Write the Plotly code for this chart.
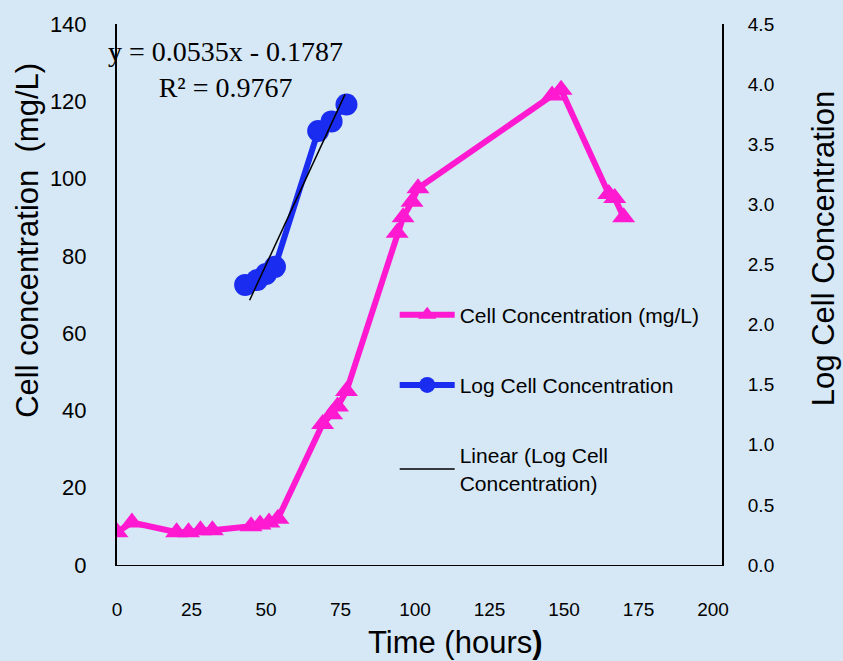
import plotly.graph_objects as go

# ---- data ----
time_cell = [0, 5, 20, 24, 28, 32, 45, 48, 51, 54, 69, 72, 74, 77, 94, 96, 99, 101, 146, 149, 165, 167, 170]
cell_conc = [8.5, 11, 8.5, 8.5, 9, 9, 10, 10.5, 11, 12, 36.5, 39, 41, 45, 86, 90, 94, 97.5, 121.5, 123, 96, 95, 90]

time_log = [43, 47, 50, 53, 67.5, 72, 77]
log_conc = [2.33, 2.37, 2.42, 2.48, 3.61, 3.69, 3.83]

trend_slope = 0.0535
trend_intercept = -0.1787
trend_x = [44.5, 76.5]

x_ticks = [0, 25, 50, 75, 100, 125, 150, 175, 200]
y_left_ticks = [0, 20, 40, 60, 80, 100, 120, 140]
y_right_ticks = [0, 0.5, 1.0, 1.5, 2.0, 2.5, 3.0, 3.5, 4.0, 4.5]

trend_y = [trend_slope * x + trend_intercept for x in trend_x]

BG = "#d6e8f6"
FONT = "Liberation Sans, Arial, sans-serif"

fig = go.Figure()

fig.add_trace(go.Scatter(
    x=time_cell, y=cell_conc, name="Cell Concentration (mg/L)",
    mode="lines+markers", legendgroup="a",
    line=dict(color="#ff19d0", width=6),
    marker=dict(symbol="triangle-up", size=20, color="#ff19d0"),
    yaxis="y"))

fig.add_trace(go.Scatter(
    x=time_log, y=log_conc, name="Log Cell Concentration",
    mode="lines+markers", legendgroup="b",
    line=dict(color="#1a2cf0", width=6),
    marker=dict(symbol="circle", size=22, color="#1a2cf0"),
    yaxis="y2"))

fig.add_trace(go.Scatter(
    x=trend_x, y=trend_y, name="Linear (Log Cell<br>Concentration)",
    mode="lines", legendgroup="c",
    line=dict(color="black", width=1.5),
    yaxis="y2"))

fig.update_layout(
    width=843, height=661,
    margin=dict(l=117, r=121, t=19, b=96),
    paper_bgcolor=BG, plot_bgcolor=BG,
    font=dict(family=FONT, color="black"),
    showlegend=True,
    legend=dict(x=0.459, y=0.5, xanchor="left", yanchor="top",
                bgcolor="rgba(0,0,0,0)", font=dict(size=21, family=FONT),
                tracegroupgap=40, itemwidth=55),
    xaxis=dict(range=[0, 203], tickvals=x_ticks, showgrid=False, zeroline=False,
               showline=True, linecolor="black", linewidth=1,
               tickfont=dict(size=19), ticks="", ticklabelstandoff=27),
    yaxis=dict(range=[0, 140], tickvals=y_left_ticks, showgrid=False, zeroline=False,
               showline=True, linecolor="black", linewidth=2,
               tickfont=dict(size=22), ticks="", ticklabelstandoff=24),
    yaxis2=dict(range=[0, 4.5], tickvals=y_right_ticks,
                ticktext=[f"{v:.1f}" for v in y_right_ticks],
                overlaying="y", side="right", showgrid=False, zeroline=False,
                showline=True, linecolor="black", linewidth=2,
                tickfont=dict(size=19), ticks="", ticklabelstandoff=20),
)

fig.add_annotation(text="Cell concentration  (mg/L)", xref="paper", yref="paper",
                   x=-0.148, y=0.6, xanchor="center", yanchor="middle",
                   textangle=-90, showarrow=False,
                   font=dict(size=31, family=FONT))
fig.add_annotation(text="Log Cell Concentration", xref="paper", yref="paper",
                   x=1.168, y=0.585, xanchor="center", yanchor="middle",
                   textangle=-90, showarrow=False,
                   font=dict(size=31, family=FONT))
fig.add_annotation(text="Time (hours<b>)</b>", xref="paper", yref="paper",
                   x=0.559, y=-0.143, xanchor="center", yanchor="middle",
                   showarrow=False, font=dict(size=31, family=FONT))
fig.add_annotation(text="y = 0.0535x - 0.1787<br>R² = 0.9767", xref="paper", yref="paper",
                   x=0.179, y=0.915, xanchor="center", yanchor="middle",
                   showarrow=False, align="center",
                   font=dict(size=28, family="Liberation Serif, Times New Roman, serif"))

fig.write_html("out.html")
